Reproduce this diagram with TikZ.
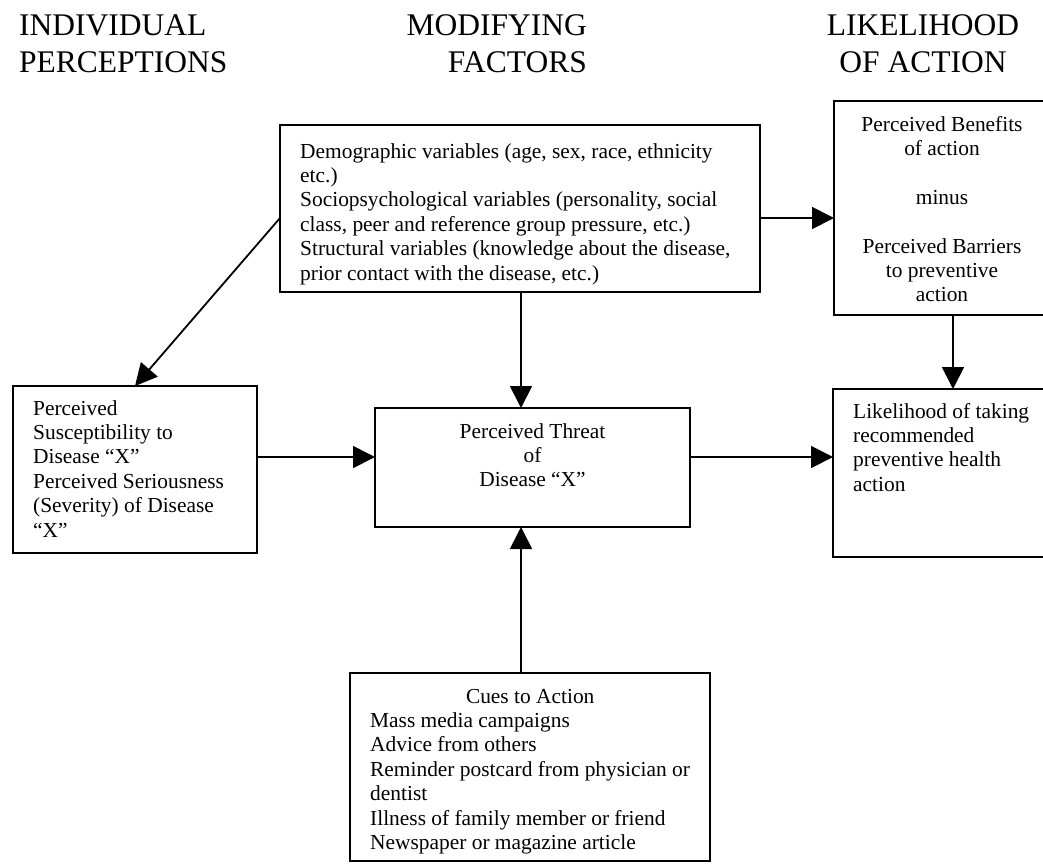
\documentclass[tikz,border=0pt]{standalone}
\usepackage{fontspec}
\setmainfont{Liberation Serif}
\usetikzlibrary{arrows.meta}

\begin{document}
\begin{tikzpicture}[x=1pt,y=-1pt,
  box/.style={draw, line width=1.8pt, inner sep=0pt, outer sep=0pt, anchor=north west},
  txt/.style={inner sep=0pt, font=\fontsize{21.4}{24.4}\selectfont},
  head/.style={inner sep=0pt, font=\fontsize{31.5}{37}\selectfont},
  arr/.style={line width=1.8pt, -{Triangle[length=22pt,width=22pt]}}]
\useasboundingbox (0,0) rectangle (1043,863);
% column headings
\node[head, anchor=north west, align=left] (hindiv) at (19,9.1) {\strut INDIVIDUAL\\PERCEPTIONS};
\node[head, anchor=north east, align=right] (hmodif) at (587,9.1) {\strut MODIFYING\\FACTORS};
\node[head, anchor=north, align=center] (hlikely) at (923,9.1) {\strut LIKELIHOOD\\OF ACTION};
% boxes
\node[box, minimum width=480, minimum height=167] (demo) at (280,125) {};
\node[txt, anchor=north west, align=left] (demotext) at ([shift={(20,15.9)}]demo.north west)
  {\strut Demographic variables (age, sex, race, ethnicity\\etc.)\\
   Sociopsychological variables (personality, social\\class, peer and reference group pressure, etc.)\\
   Structural variables (knowledge about the disease,\\prior contact with the disease, etc.)};
\node[box, minimum width=216, minimum height=214] (benefits) at (834,101) {};
\node[txt, anchor=north, align=center] (benefitstext) at ([shift={(0,12.9)}]benefits.north)
  {\strut Perceived Benefits\\of action\\[24.4pt] minus\\[24.4pt] Perceived Barriers\\to preventive\\action};
\node[box, minimum width=244, minimum height=167] (pers) at (13,386) {};
\node[txt, anchor=north west, align=left] (perstext) at ([shift={(20,11.9)}]pers.north west)
  {\strut Perceived\\Susceptibility to\\Disease “X”\\Perceived Seriousness\\(Severity) of Disease\\“X”};
\node[box, minimum width=315, minimum height=119] (threat) at (375,408) {};
\node[txt, anchor=north, align=center] (threattext) at ([shift={(0,12.9)}]threat.north)
  {\strut Perceived Threat\\of\\Disease “X”};
\node[box, minimum width=217, minimum height=168] (likely) at (833,389) {};
\node[txt, anchor=north west, align=left] (likelytext) at ([shift={(20,11.9)}]likely.north west)
  {\strut Likelihood of taking\\recommended\\preventive health\\action};
\node[box, minimum width=360, minimum height=188] (cues) at (350,673) {};
\node[txt, anchor=north west, align=left] (cuestext) at ([shift={(20,12.9)}]cues.north west)
  {\strut\makebox[320pt]{Cues to Action}\\Mass media campaigns\\Advice from others\\
   Reminder postcard from physician or\\dentist\\Illness of family member or friend\\
   Newspaper or magazine article};
% connectors
\coordinate (ra) at (0,218);
\coordinate (rb) at (0,457);
\coordinate (ca) at (521,0);
\coordinate (cb) at (953,0);
\draw[arr] (demo.east |- ra) -- (benefits.west |- ra);
\draw[arr] (demo.west |- ra) -- (pers.north);
\draw[arr] (demo.south -| ca) -- (threat.north -| ca);
\draw[arr] (pers.east |- rb) -- (threat.west |- rb);
\draw[arr] (threat.east |- rb) -- (likely.west |- rb);
\draw[arr] (benefits.south -| cb) -- (likely.north -| cb);
\draw[arr] (cues.north -| ca) -- (threat.south -| ca);
\end{tikzpicture}
\end{document}
